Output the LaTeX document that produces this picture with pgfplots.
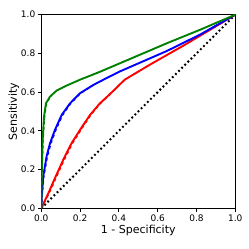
\documentclass[border=0pt]{standalone}
\usepackage{fontspec}
\setmainfont{DejaVu Sans}
\usepackage{pgfplots}
\pgfplotsset{compat=1.18}
\definecolor{mplgreen}{RGB}{0,128,0}
\begin{document}
\begin{tikzpicture}
\begin{axis}[
  at={(0,0)}, anchor=south west,
  scale only axis, width=194pt, height=193.6pt,
  xmin=0, xmax=1, ymin=0, ymax=1,
  xtick={0,0.2,0.4,0.6,0.8,1.0}, ytick={0,0.2,0.4,0.6,0.8,1.0},
  xticklabels={0.0,0.2,0.4,0.6,0.8,1.0},
  yticklabels={0.0,0.2,0.4,0.6,0.8,1.0},
  tick align=outside, xtick pos=left, ytick pos=left,
  major tick length=3.5pt,
  every tick/.style={black, line width=0.8pt},
  axis line style={line width=0.8pt},
  tick label style={font=\fontsize{9}{10}\selectfont},
  xticklabel style={yshift=1pt},
  yticklabel style={xshift=1pt},
  xlabel={1 - Specificity}, ylabel={Sensitivity},
  label style={font=\fontsize{11}{13}\selectfont},
  xlabel style={yshift=3pt},
  ylabel style={yshift=-5pt},
  clip=true,
]
\addplot[black, line width=2pt, dash pattern=on 1.8pt off 2.6pt] coordinates {(0,0) (1,1)};
% red
\addplot[red, line width=1.9pt] coordinates {
(0,0) (0.036,0.077) (0.070,0.155) (0.113,0.250) (0.156,0.336) (0.199,0.404)
(0.251,0.482) (0.302,0.542) (0.354,0.590) (0.431,0.665) (0.560,0.742) (0.732,0.840) (0.9,0.94) (1,1)};
\addplot[red, line width=1.4pt, dashed] coordinates {
(0,0) (0.040,0.077) (0.075,0.155) (0.118,0.250) (0.161,0.336) (0.204,0.404)
(0.255,0.482) (0.305,0.542) (0.356,0.590) (0.431,0.665)};
% blue
\addplot[blue, line width=1.9pt] coordinates {
(0,0) (0.003,0.07) (0.010,0.164) (0.027,0.267) (0.045,0.336) (0.070,0.404) (0.105,0.482)
(0.148,0.542) (0.199,0.594) (0.268,0.637) (0.337,0.673) (0.405,0.707) (0.646,0.812) (0.818,0.897) (1,1)};
\addplot[blue, line width=1.4pt, dashed] coordinates {
(0,0) (0.005,0.07) (0.013,0.164) (0.031,0.267) (0.050,0.336) (0.075,0.404) (0.110,0.482)
(0.152,0.542) (0.202,0.594) (0.27,0.637)};
% green
\addplot[mplgreen, line width=1.9pt] coordinates {
(0,0) (0.001,0.1) (0.003,0.215) (0.007,0.353) (0.014,0.473) (0.024,0.542) (0.045,0.577)
(0.079,0.608) (0.131,0.634) (0.199,0.664) (0.302,0.705) (0.405,0.749) (0.646,0.852) (0.818,0.922) (1,1)};
\addplot[mplgreen, line width=1.4pt, dashed] coordinates {
(0,0) (0.002,0.1) (0.005,0.215) (0.009,0.353) (0.017,0.473) (0.027,0.542) (0.047,0.577)};
\end{axis}
\pgfresetboundingbox
\useasboundingbox (-41.3pt,-40.7pt) rectangle (207.7pt,208.3pt);
\end{tikzpicture}
\end{document}
